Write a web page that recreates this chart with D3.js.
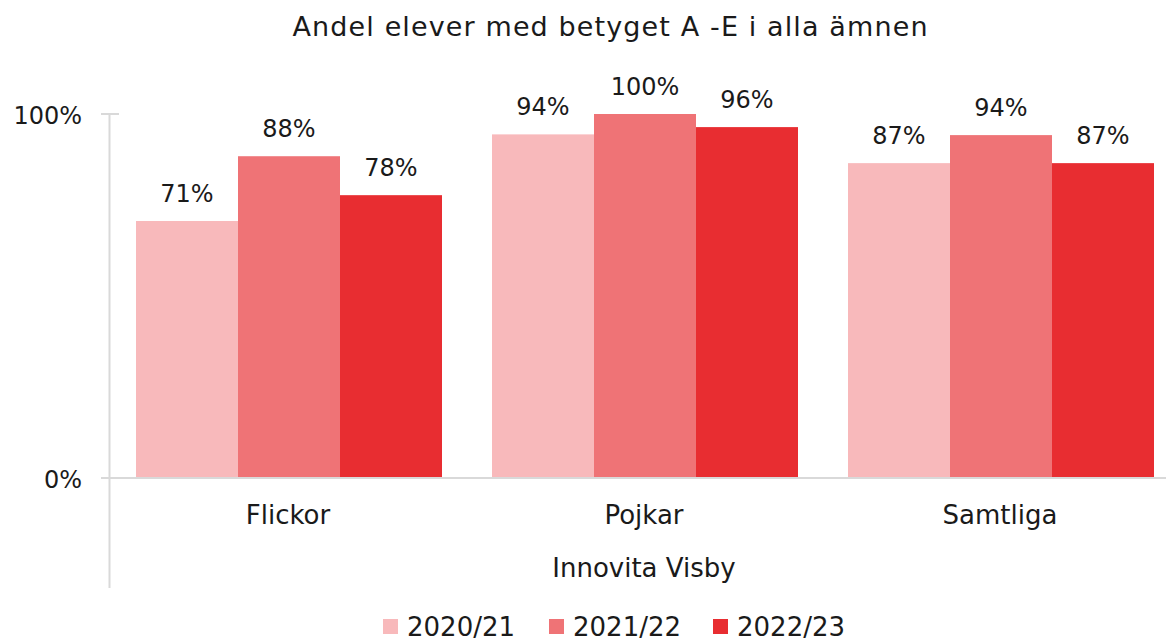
<!DOCTYPE html>
<html>
<head>
<meta charset="utf-8">
<script src="https://cdn.jsdelivr.net/npm/d3@7"></script>
<style>
  html, body { margin: 0; padding: 0; background: #fff; }
  text { font-family: "DejaVu Sans", sans-serif; fill: #1a1a1a; }
</style>
</head>
<body>
<svg id="chart" width="1166" height="641"></svg>
<script>
const title = "Andel elever med betyget A -E i alla ämnen";
const categories = ["Flickor", "Pojkar", "Samtliga"];
const series = ["2020/21", "2021/22", "2022/23"];
const values2020 = [0.706, 0.944, 0.865];
const values2021 = [0.884, 1.00, 0.942];
const values2022 = [0.777, 0.964, 0.865];
const yTicks = [0, 1];
const axisTitle = "Innovita Visby";
const colors = ["#F8B9BB", "#EF7376", "#E82D31"];

const seriesValues = [values2020, values2021, values2022];
const svg = d3.select("#chart");
const FONT = "'DejaVu Sans', sans-serif";

const y = d3.scaleLinear().domain([0, 1]).range([478, 114]);
const x0 = d3.scaleBand().domain(categories).range([110, 1178]).padding(0);
const bw = x0.bandwidth();
const x1 = d3.scaleBand().domain(series).range([26, bw - 24]).padding(0);

// title
const t = svg.append("text").attr("x", 610).attr("y", 36).attr("text-anchor", "middle")
  .style("font-size", "27px").text(title);
const natural = t.node().getComputedTextLength();
if (natural < 635) t.attr("textLength", 635).attr("lengthAdjust", "spacing");

// y axis line
svg.append("line").attr("x1", 109.5).attr("x2", 109.5).attr("y1", 114).attr("y2", 588)
  .attr("stroke", "#d9d9d9").attr("stroke-width", 2);

const yAxis = d3.axisLeft(y).tickValues(yTicks).tickFormat(d3.format(".0%")).tickSize(0).tickPadding(0);
const gy = svg.append("g").attr("transform", "translate(82,0)").call(yAxis);
gy.select(".domain").remove();
gy.selectAll("text").attr("dy", 9).style("font-size", "24px").style("font-family", FONT).attr("fill", "#1a1a1a");

// tick at 100%
svg.append("line").attr("x1", 101).attr("x2", 119).attr("y1", y(1)).attr("y2", y(1))
  .attr("stroke", "#d9d9d9").attr("stroke-width", 2);

// bars
const groups = svg.selectAll("g.grp").data(categories).join("g")
  .attr("class", "grp").attr("transform", c => `translate(${x0(c)},0)`);

groups.each(function(c, ci) {
  const g = d3.select(this);
  series.forEach((s, si) => {
    const v = seriesValues[si][ci];
    g.append("rect").attr("x", x1(s)).attr("width", x1.bandwidth())
      .attr("y", y(v)).attr("height", y(0) - y(v)).attr("fill", colors[si]);
    g.append("text").attr("x", x1(s) + x1.bandwidth() / 2).attr("y", y(v) - 19)
      .attr("text-anchor", "middle").style("font-size", "24px")
      .text(d3.format(".0%")(v));
  });
});

// baseline
svg.append("line").attr("x1", 101).attr("x2", 1166).attr("y1", y(0)).attr("y2", y(0))
  .attr("stroke", "#d9d9d9").attr("stroke-width", 2);

// category labels
const xAxis = d3.axisBottom(x0).tickSize(0).tickPadding(0);
const gx = svg.append("g").attr("transform", "translate(0,524)").call(xAxis);
gx.select(".domain").remove();
gx.selectAll("text").attr("dy", 0).style("font-size", "26px").style("font-family", FONT).attr("fill", "#1a1a1a");

// axis title
svg.append("text").attr("x", 644).attr("y", 577).attr("text-anchor", "middle")
  .style("font-size", "26px").text(axisTitle);

// legend
const legendX = [383, 549, 713];
const leg = svg.selectAll("g.leg").data(series).join("g").attr("class", "leg")
  .attr("transform", (d, i) => `translate(${legendX[i]},619)`);
leg.append("rect").attr("width", 15).attr("height", 15).attr("fill", (d, i) => colors[i]);
leg.append("text").attr("x", 24).attr("y", 17).style("font-size", "26px").text(d => d);
</script>
</body>
</html>
